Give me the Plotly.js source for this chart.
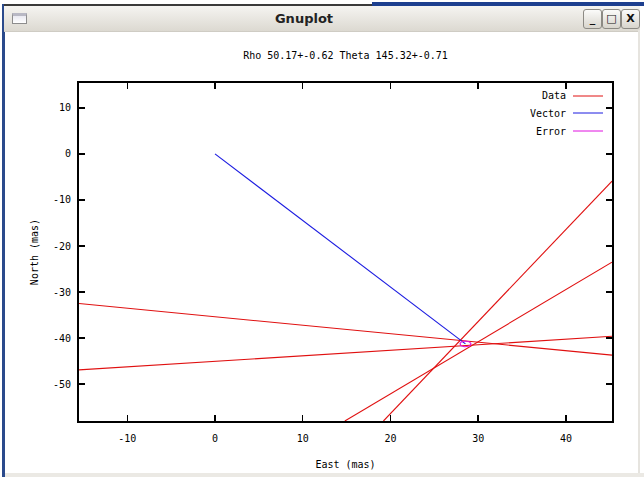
<!DOCTYPE html>
<html>
<head>
<meta charset="utf-8">
<script src="https://cdn.plot.ly/plotly-3.0.1.min.js"></script>
<style>
  html, body { margin: 0; padding: 0; background: #ffffff; }
  #wrap { position: relative; width: 644px; height: 477px; overflow: hidden; }
  #plot { position: absolute; left: 0; top: 0; width: 644px; height: 477px; }
  .chrome { position: absolute; z-index: 5; }
  #topline1 { left: 4px; top: 4px; width: 368px; height: 2px; background: #3a3a3a; }
  #topline2 { left: 372px; top: 2px; width: 272px; height: 4px; background: #1d3f8f; }
  #titlebar { left: 4px; top: 6px; width: 636px; height: 25px;
              background: linear-gradient(#f5f4f1, #dcd9d1); border-bottom: 1px solid #cfccc4; }
  #wtitle { left: 4px; top: 6px; width: 600px; height: 25px; text-align: center;
            font: bold 13px "DejaVu Sans", sans-serif; line-height: 25px; color: #222; }
  #leftedge { left: 2px; top: 4px; width: 3px; height: 473px; background: #2a4a8c; }
  #rightedge { left: 638px; top: 30px; width: 2px; height: 447px; background: #e6e4df; }
  #bottomstrip { left: 5px; top: 473px; width: 639px; height: 4px; background: #ebe9e4; }
  #icon { left: 12px; top: 13px; width: 13px; height: 7px; border: 1px solid #8d8d8d;
          background: linear-gradient(#e9e9f1, #ffffff); border-top: 3px solid #b8b8c4; }
  .btn { top: 9px; width: 17px; height: 18px; border: 1px solid #8c8a84; border-radius: 3px;
         background: linear-gradient(#fbfbfa, #d8d5cd); text-align: center;
         font: bold 11px "DejaVu Sans", sans-serif; line-height: 18px; color: #111; }
</style>
</head>
<body>
<div id="wrap">
  <div id="plot"></div>
  <div class="chrome" id="leftedge"></div>
  <div class="chrome" id="topline1"></div>
  <div class="chrome" id="topline2"></div>
  <div class="chrome" id="titlebar"></div>
  <div class="chrome" id="wtitle">Gnuplot</div>
  <div class="chrome" id="icon"></div>
  <div class="chrome btn" style="left:583px;">_</div>
  <div class="chrome btn" style="left:602px;">&#9633;</div>
  <div class="chrome btn" style="left:621px;">X</div>
  <div class="chrome" id="rightedge"></div>
  <div class="chrome" id="bottomstrip"></div>
</div>
<script>
// Separation and position angle with their errors
const rho = 50.17;
const rhoErr = 0.62;
const theta = 145.32;
const thetaErr = 0.71;

// Individual measurement lines (East, North endpoints in mas)
const dataLineEast = [
  [-15.5, 45.25],
  [-15.5, 45.25],
  [14.8, 45.25],
  [19.2, 45.25]
];
const dataLineNorth = [
  [-32.5, -43.7],
  [-46.9, -39.6],
  [-58.0, -23.5],
  [-58.0, -5.9]
];

const seriesNames = ['Data', 'Vector', 'Error'];
const seriesColors = ['#e01010', '#1a1ae0', '#e010e0'];

const xTicks = [-10, 0, 10, 20, 30, 40];
const yTicks = [-50, -40, -30, -20, -10, 0, 10];

const deg = Math.PI / 180;

// Data trace: all measurement lines in one trace, separated by gaps
const dx = [], dy = [];
dataLineEast.forEach((xs, i) => {
  dx.push(...xs, null);
  dy.push(...dataLineNorth[i], null);
});

// Vector from origin to the companion position
const tipE = rho * Math.sin(theta * deg);
const tipN = rho * Math.cos(theta * deg);

// Error ellipse in (rho, theta) space
const ex = [], ey = [];
for (let k = 0; k <= 72; k++) {
  const t = k * 5 * deg;
  const r = rho + rhoErr * Math.cos(t);
  const th = (theta + thetaErr * Math.sin(t)) * deg;
  ex.push(r * Math.sin(th));
  ey.push(r * Math.cos(th));
}

const font = { family: '"DejaVu Sans Mono", monospace', size: 10, color: '#000' };

const traces = [
  { x: dx, y: dy, mode: 'lines', name: seriesNames[0],
    line: { color: seriesColors[0], width: 1.1 }, connectgaps: false, hoverinfo: 'skip' },
  { x: [0, tipE], y: [0, tipN], mode: 'lines', name: seriesNames[1],
    line: { color: seriesColors[1], width: 1.1 } },
  { x: ex, y: ey, mode: 'lines', name: seriesNames[2],
    line: { color: seriesColors[2], width: 1.1 } }
];

// Gnuplot-style key: label on the left, line sample on the right
const plotL = 79, plotR = 612, plotT = 83, plotB = 421;
const pw = plotR - plotL, ph = plotB - plotT;
const keyRows = [96, 113, 131];
const annotations = [], shapes = [];
seriesNames.forEach((nm, i) => {
  const yp = 1 - (keyRows[i] - plotT) / ph;
  annotations.push({
    xref: 'paper', yref: 'paper', x: (568 - plotL) / pw, y: yp,
    xanchor: 'right', yanchor: 'middle', text: nm, showarrow: false, font: font
  });
  shapes.push({
    type: 'line', xref: 'paper', yref: 'paper',
    x0: (573 - plotL) / pw, x1: (603 - plotL) / pw, y0: yp, y1: yp,
    line: { color: seriesColors[i], width: 1 }
  });
});

const axisCommon = {
  showgrid: false, zeroline: false, showline: true, linecolor: '#000', linewidth: 2,
  mirror: 'ticks', ticks: 'inside', ticklen: 6, tickwidth: 1.5, tickcolor: '#000',
  tickfont: font, autorange: false, fixedrange: true
};

const layout = {
  width: 644, height: 477,
  margin: { l: plotL, r: 644 - plotR, t: plotT, b: 477 - plotB, pad: 0 },
  paper_bgcolor: '#ffffff', plot_bgcolor: '#ffffff',
  showlegend: false,
  font: font,
  title: { text: 'Rho ' + rho.toFixed(2) + '+-' + rhoErr.toFixed(2) +
                 ' Theta ' + theta.toFixed(2) + '+-' + thetaErr.toFixed(2),
           font: font, x: (plotL + plotR) / 2 / 644, xanchor: 'center',
           y: 1 - 55 / 477, yanchor: 'middle' },
  xaxis: Object.assign({}, axisCommon, {
    range: [-15.5, 45.25], tickvals: xTicks, ticktext: xTicks.map(String),
    ticklabelstandoff: 7,
    title: { text: 'East (mas)', font: font, standoff: 18 }
  }),
  yaxis: Object.assign({}, axisCommon, {
    range: [-58.0, 15.4], tickvals: yTicks, ticktext: yTicks.map(String),
    ticklabelstandoff: 4,
    title: { text: 'North (mas)', font: font, standoff: 12 }
  }),
  annotations: annotations,
  shapes: shapes
};

Plotly.newPlot('plot', traces, layout, { staticPlot: true, displayModeBar: false });
</script>
</body>
</html>
